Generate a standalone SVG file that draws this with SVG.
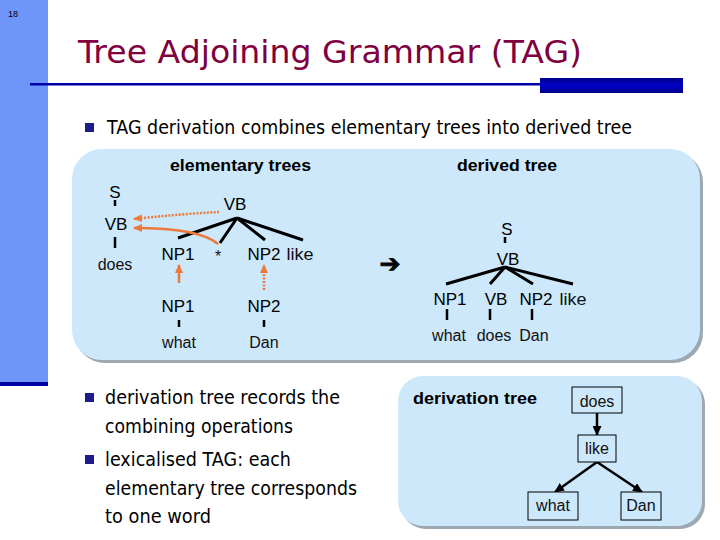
<svg xmlns="http://www.w3.org/2000/svg" width="720" height="540" viewBox="0 0 720 540">
<style>
.body{font-family:"DejaVu Sans","Liberation Sans",sans-serif;font-size:19px;fill:#000}
.lbl{font-family:"Liberation Sans",Arial,sans-serif;font-size:17px;fill:#000;text-anchor:middle}
.wd{font-family:"Liberation Sans",Arial,sans-serif;font-size:16px;fill:#111;text-anchor:middle}
.hd{font-family:"Liberation Sans",Arial,sans-serif;font-size:17px;font-weight:bold;fill:#000}
.edge{stroke:#000;stroke-width:3;fill:none;stroke-linecap:butt}
.tick{stroke:#000;stroke-width:2.5;fill:none}
.or{stroke:#ec7a3c;stroke-width:2.5;fill:none}
.ord{stroke:#ec7a3c;stroke-width:2.5;fill:none;stroke-dasharray:2 1.5}
.dv{stroke:#000;stroke-width:2.5;fill:none}
.nbox{fill:#cce8fa;stroke:#000;stroke-width:1}
.bul{fill:#1c1c8c}
.panel{fill:#cce8fa}
.shadow{fill:#9ea8b2}
</style>
<defs>
<linearGradient id="bar" x1="0" y1="0" x2="0" y2="1">
<stop offset="0" stop-color="#000088"/>
<stop offset="0.5" stop-color="#0000c8"/>
<stop offset="1" stop-color="#000088"/>
</linearGradient>
<marker id="oa" markerUnits="userSpaceOnUse" markerWidth="9" markerHeight="8" refX="8" refY="4" orient="auto">
<path d="M0,0 L9,4 L0,8 z" fill="#ec7a3c"/>
</marker>
<marker id="ba" markerUnits="userSpaceOnUse" markerWidth="10" markerHeight="9" refX="9" refY="4.5" orient="auto">
<path d="M0,0 L10,4.5 L0,9 z" fill="#000"/>
</marker>
</defs>
<rect width="720" height="540" fill="#fff"/>
<!-- sidebar -->
<rect x="0" y="0" width="48" height="386" fill="#6e96fa"/>
<rect x="0" y="382" width="48" height="4" fill="#0000a0"/>
<text x="8" y="17" font-family="Liberation Sans,Arial,sans-serif" font-size="9" fill="#000">18</text>
<!-- title -->
<text x="78" y="63" font-family="DejaVu Sans,Liberation Sans,sans-serif" font-size="32" fill="#800040" textLength="504" lengthAdjust="spacingAndGlyphs">Tree Adjoining Grammar (TAG)</text>
<rect x="30" y="83" width="512" height="2.5" fill="#0000aa"/>
<rect x="540" y="78" width="143" height="15" fill="url(#bar)"/>
<!-- bullet 1 -->
<rect class="bul" x="85" y="123" width="9" height="9"/>
<text class="body" x="107" y="134" textLength="525" lengthAdjust="spacingAndGlyphs">TAG derivation combines elementary trees into derived tree</text>
<!-- panels -->
<rect class="shadow" x="75" y="152" width="628" height="211" rx="30"/>
<rect class="panel" x="72" y="149" width="628" height="211" rx="30"/>
<text class="hd" x="170" y="171" textLength="141" lengthAdjust="spacingAndGlyphs">elementary trees</text>
<text class="hd" x="457" y="171" textLength="100" lengthAdjust="spacingAndGlyphs">derived tree</text>
<rect class="shadow" x="401" y="379" width="304" height="150" rx="25"/>
<rect class="panel" x="398" y="376" width="304" height="150" rx="25"/>
<text class="hd" x="413" y="404" textLength="124" lengthAdjust="spacingAndGlyphs">derivation tree</text>
<!-- connectors -->
<g id="connectors">
<line class="tick" x1="115" y1="200" x2="115" y2="206"/>
<line class="tick" x1="115" y1="237" x2="115" y2="248"/>
<line class="edge" x1="237" y1="218" x2="178" y2="238"/>
<line class="edge" x1="237" y1="218" x2="220" y2="243"/>
<line class="edge" x1="237" y1="218" x2="265" y2="240"/>
<line class="edge" x1="237" y1="218" x2="303" y2="240"/>
<line class="tick" x1="179" y1="320" x2="179" y2="327"/>
<line class="tick" x1="264" y1="320" x2="264" y2="327"/>
<line class="or" x1="179" y1="283" x2="179" y2="265" marker-end="url(#oa)"/>
<line class="ord" x1="264" y1="290" x2="264" y2="265" marker-end="url(#oa)"/>
<path class="ord" d="M219,212 Q180,214 134,219" marker-end="url(#oa)"/>
<path class="or" d="M218,244 Q200,228 134,228" marker-end="url(#oa)"/>
<line class="tick" x1="505" y1="237" x2="505" y2="243"/>
<line class="edge" x1="505" y1="267" x2="446" y2="284"/>
<line class="edge" x1="505" y1="267" x2="490" y2="284"/>
<line class="edge" x1="505" y1="267" x2="533" y2="284"/>
<line class="edge" x1="505" y1="267" x2="573" y2="284"/>
<line class="tick" x1="447" y1="309" x2="447" y2="320"/>
<line class="tick" x1="490" y1="309" x2="490" y2="320"/>
<line class="tick" x1="532" y1="309" x2="532" y2="320"/>
<line class="dv" x1="597" y1="413" x2="597" y2="435" marker-end="url(#ba)"/>
<line class="dv" x1="597" y1="462" x2="555" y2="492" marker-end="url(#ba)"/>
<line class="dv" x1="597" y1="462" x2="642" y2="492" marker-end="url(#ba)"/>
</g>
<!-- elementary tree nodes -->
<g id="e-S"><text class="lbl" x="115" y="198">S</text></g>
<g id="e-VB1"><text class="lbl" x="116" y="230">VB</text></g>
<g id="e-does"><text class="wd" x="115" y="270">does</text></g>
<g id="e-VB2"><text class="lbl" x="235" y="210">VB</text></g>
<g id="e-NP1"><text class="lbl" x="178" y="260">NP1</text></g>
<g id="e-star"><text class="wd" x="218" y="262" font-size="13">*</text></g>
<g id="e-NP2"><text class="lbl" x="264" y="260">NP2</text></g>
<g id="e-like"><text class="wd" x="300" y="260" textLength="27" lengthAdjust="spacingAndGlyphs">like</text></g>
<g id="e-NP1b"><text class="lbl" x="178" y="312">NP1</text></g>
<g id="e-what"><text class="wd" x="179" y="348">what</text></g>
<g id="e-NP2b"><text class="lbl" x="264" y="312">NP2</text></g>
<g id="e-Dan"><text class="wd" x="264" y="348">Dan</text></g>
<!-- arrow -->
<g id="implies"><text x="390" y="272" font-family="DejaVu Sans,sans-serif" font-size="25" text-anchor="middle" stroke="#000" stroke-width="0.8">➔</text></g>
<!-- derived tree -->
<g id="d-S"><text class="lbl" x="507" y="235">S</text></g>
<g id="d-VB"><text class="lbl" x="508" y="265">VB</text></g>
<g id="d-NP1"><text class="lbl" x="450" y="305">NP1</text></g>
<g id="d-VB2"><text class="lbl" x="496" y="305">VB</text></g>
<g id="d-NP2"><text class="lbl" x="536" y="305">NP2</text></g>
<g id="d-like"><text class="wd" x="573" y="305" textLength="27" lengthAdjust="spacingAndGlyphs">like</text></g>
<g id="d-what"><text class="wd" x="449" y="341">what</text></g>
<g id="d-does"><text class="wd" x="494" y="341">does</text></g>
<g id="d-Dan"><text class="wd" x="534" y="341">Dan</text></g>
<!-- bullets 2,3 -->
<rect class="bul" x="85" y="393" width="9" height="9"/>
<text class="body" x="105" y="404" textLength="235" lengthAdjust="spacingAndGlyphs">derivation tree records the</text>
<text class="body" x="105" y="433" textLength="188" lengthAdjust="spacingAndGlyphs">combining operations</text>
<rect class="bul" x="85" y="455" width="9" height="9"/>
<text class="body" x="105" y="466" textLength="186" lengthAdjust="spacingAndGlyphs">lexicalised TAG: each</text>
<text class="body" x="105" y="495" textLength="252" lengthAdjust="spacingAndGlyphs">elementary tree corresponds</text>
<text class="body" x="105" y="523" textLength="106" lengthAdjust="spacingAndGlyphs">to one word</text>
<!-- derivation tree nodes -->
<g id="t-does"><rect class="nbox" x="572" y="387" width="50" height="26"/><text class="wd" x="597" y="407">does</text></g>
<g id="t-like"><rect class="nbox" x="578" y="435" width="38" height="27"/><text class="wd" x="597" y="454">like</text></g>
<g id="t-what"><rect class="nbox" x="528" y="492" width="50" height="28"/><text class="wd" x="553" y="511">what</text></g>
<g id="t-Dan"><rect class="nbox" x="621" y="492" width="40" height="28"/><text class="wd" x="641" y="511">Dan</text></g>
</svg>
